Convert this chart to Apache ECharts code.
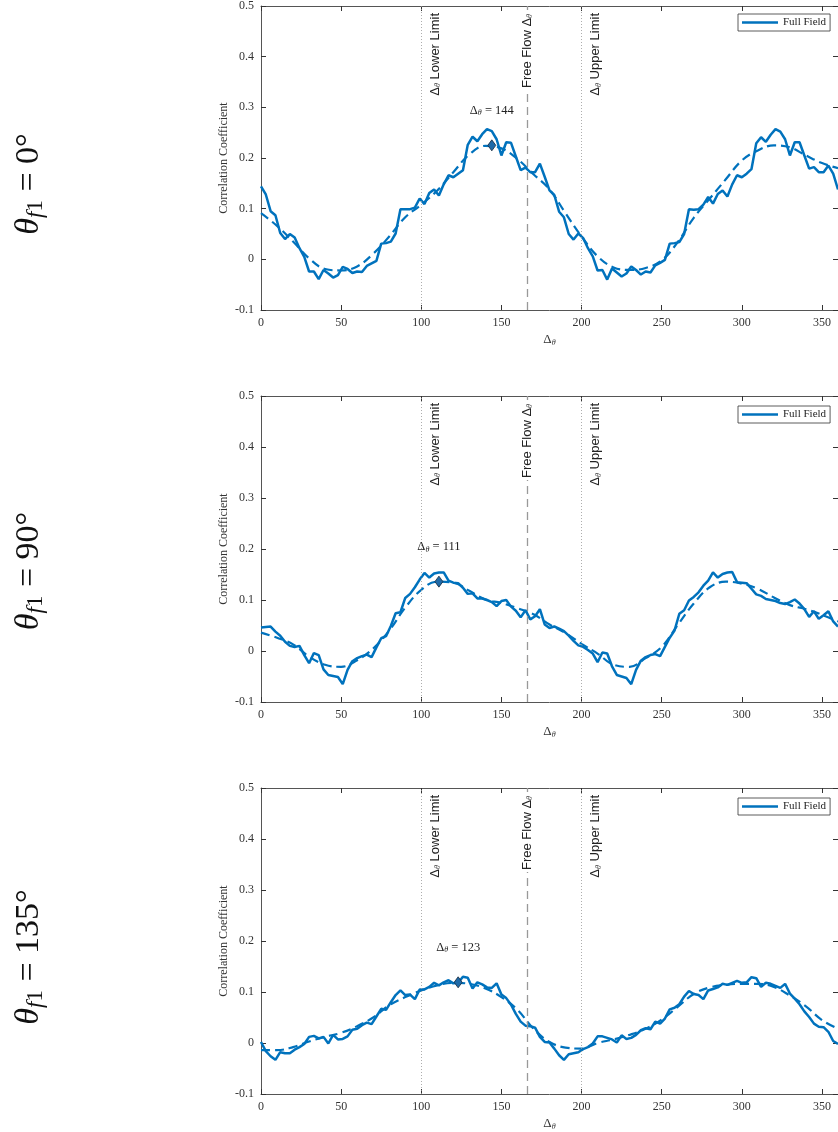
<!DOCTYPE html>
<html><head><meta charset="utf-8">
<script src="https://cdn.jsdelivr.net/npm/echarts@6/dist/echarts.min.js"></script>
<style>html,body{margin:0;padding:0;background:#fff}#c{width:838px;height:1132px}</style>
</head><body><div id="c"></div>
<script>
// ---------- DATA ----------
const angles = [0,3,6,9,12,15,18,21,24,27,30,33,36,39,42,45,48,51,54,57,60,63,66,69,72,75,78,81,84,87,
90,93,96,99,102,105,108,111,114,117,120,123,126,129,132,135,138,141,144,147,150,153,156,159,162,165,168,171,174,177,
180,183,186,189,192,195,198,201,204,207,210,213,216,219,222,225,228,231,234,237,240,243,246,249,252,255,258,261,264,267,
270,273,276,279,282,285,288,291,294,297,300,303,306,309,312,315,318,321,324,327,330,333,336,339,342,345,348,351,354,357,360];

const corr0 = [0.144,0.128,0.095,0.087,0.052,0.040,0.050,0.043,0.022,0.005,
-0.024,-0.024,-0.039,-0.021,-0.028,-0.036,-0.031,-0.015,-0.019,-0.027,
-0.024,-0.025,-0.013,-0.008,-0.003,0.031,0.032,0.035,0.051,0.099,
0.099,0.099,0.102,0.120,0.109,0.131,0.138,0.126,0.148,0.166,
0.162,0.169,0.176,0.226,0.242,0.233,0.247,0.257,0.253,0.237,
0.205,0.231,0.230,0.203,0.176,0.181,0.172,0.172,0.189,0.163,
0.136,0.127,0.094,0.083,0.050,0.039,0.051,0.042,0.022,0.006,
-0.022,-0.021,-0.040,-0.018,-0.026,-0.034,-0.028,-0.014,-0.021,-0.030,
-0.024,-0.026,-0.012,-0.007,-0.001,0.031,0.032,0.034,0.050,0.099,
0.098,0.099,0.108,0.123,0.110,0.129,0.136,0.124,0.148,0.166,
0.162,0.169,0.178,0.229,0.241,0.232,0.246,0.257,0.252,0.237,
0.205,0.231,0.231,0.205,0.179,0.182,0.172,0.172,0.185,0.169,
0.138];

const corr90 = [0.046,0.047,0.048,0.038,0.030,0.018,0.010,0.008,0.010,-0.008,
-0.024,-0.004,-0.008,-0.036,-0.047,-0.049,-0.051,-0.065,-0.037,-0.020,
-0.014,-0.010,-0.007,-0.012,0.007,0.025,0.029,0.049,0.074,0.076,
0.104,0.112,0.125,0.140,0.153,0.144,0.152,0.154,0.154,0.138,
0.134,0.133,0.124,0.112,0.113,0.103,0.103,0.100,0.096,0.088,
0.098,0.100,0.087,0.079,0.066,0.080,0.062,0.068,0.082,0.052,
0.045,0.048,0.044,0.039,0.030,0.020,0.011,0.008,0.002,-0.005,
-0.022,-0.003,-0.005,-0.030,-0.047,-0.050,-0.053,-0.065,-0.037,-0.019,
-0.012,-0.008,-0.006,-0.010,0.008,0.026,0.040,0.073,0.080,0.099,
0.106,0.115,0.128,0.138,0.154,0.144,0.151,0.154,0.155,0.135,
0.134,0.133,0.122,0.111,0.108,0.102,0.100,0.098,0.094,0.092,
0.096,0.101,0.093,0.082,0.067,0.078,0.063,0.070,0.078,0.058,
0.048];

const corr135 = [0.002,-0.016,-0.026,-0.033,-0.018,-0.020,-0.020,-0.013,-0.008,-0.002,
0.012,0.014,0.009,0.012,-0.001,0.016,0.007,0.008,0.013,0.026,
0.028,0.035,0.040,0.037,0.052,0.067,0.065,0.080,0.094,0.103,
0.094,0.095,0.086,0.105,0.105,0.110,0.118,0.113,0.119,0.123,
0.117,0.118,0.130,0.128,0.107,0.119,0.115,0.109,0.108,0.117,
0.095,0.088,0.075,0.057,0.042,0.034,0.033,0.030,0.012,0.002,
0.001,-0.011,-0.024,-0.033,-0.022,-0.020,-0.018,-0.012,-0.008,-0.001,
0.013,0.013,0.010,0.007,0.001,0.015,0.008,0.010,0.016,0.025,
0.029,0.027,0.042,0.038,0.048,0.066,0.069,0.076,0.091,0.102,
0.096,0.094,0.086,0.103,0.106,0.109,0.116,0.114,0.118,0.122,
0.118,0.119,0.129,0.127,0.110,0.118,0.116,0.112,0.108,0.116,
0.097,0.087,0.076,0.062,0.051,0.038,0.032,0.031,0.022,0.004,
-0.002];

const fitAngles = [0,10,20,30,40,50,60,70,80,90,100,110,120,130,140,150,160,170,180,
190,200,210,220,230,240,250,260,270,280,290,300,310,320,330,340,350,360];
const fit0 = [0.091,0.066,0.035,0.002,-0.019,-0.022,-0.014,0.011,0.045,0.083,0.108,0.136,0.172,0.207,0.224,0.219,0.198,0.168,0.138,
0.091,0.045,0.006,-0.016,-0.021,-0.017,-0.002,0.034,0.082,0.120,0.158,0.195,0.215,0.225,0.221,0.205,0.190,0.180];
const fit90 = [0.036,0.026,0.013,-0.011,-0.027,-0.031,-0.018,0.005,0.040,0.085,0.120,0.136,0.134,0.118,0.101,0.094,0.084,0.072,0.052,
0.035,0.014,-0.005,-0.027,-0.031,-0.014,0.008,0.051,0.093,0.125,0.136,0.132,0.122,0.105,0.090,0.082,0.071,0.058];
const fit135 = [-0.014,-0.014,-0.008,0.003,0.012,0.020,0.033,0.050,0.074,0.090,0.103,0.113,0.118,0.116,0.107,0.090,0.065,0.028,0.002,
-0.009,-0.011,0.000,0.007,0.016,0.028,0.046,0.071,0.096,0.109,0.114,0.116,0.116,0.110,0.093,0.072,0.045,0.028];

const panelNames = ['0°', '90°', '135°'];
const peakAngles = [144, 111, 123];
const peakValues = [0.225, 0.136, 0.119];
const limitLines = [100, 166, 200];     // lower limit, free flow, upper limit
const xTicks = {min: 0, max: 360, step: 50};
const yTicks = {min: -0.1, max: 0.5, step: 0.1};
const seriesName = 'Full Field';

// ---------- LAYOUT / STYLE ----------
const BLUE = '#0072BD';
const SERIF = '"Liberation Serif", "DejaVu Serif", serif';
const SANS = '"Liberation Sans", Arial, sans-serif';
const AX = '#555';
const tops = [4, 396, 788];
const H = 306, L = 261, W = 580;
const labelCenters = [184, 571, 957];
const legendTops = [14, 406, 798];

const panels = [
  {corr: corr0, fit: fit0},
  {corr: corr90, fit: fit90},
  {corr: corr135, fit: fit135}
];

const grid = [], xAxis = [], yAxis = [], series = [], legend = [], graphic = [];

panels.forEach((p, i) => {
  grid.push({left: L, top: tops[i], width: W, height: H});
  const axLine = {show: true, onZero: false, lineStyle: {color: AX, width: 1}};
  const tick = {show: true, inside: true, length: 5, lineStyle: {color: '#333', width: 1}};
  xAxis.push({
    type: 'value', gridIndex: i, position: 'bottom', min: xTicks.min, max: xTicks.max, interval: xTicks.step,
    axisLine: axLine, axisTick: tick, splitLine: {show: false},
    axisLabel: {fontFamily: SERIF, fontSize: 12, color: '#333', margin: 7, showMaxLabel: false},
    name: '{d|Δ}{s|θ}', nameLocation: 'middle', nameGap: 23, nameMoveOverlap: false,
    nameTextStyle: {rich: {d: {fontFamily: SERIF, fontSize: 13, color: '#333'},
                           s: {fontFamily: SERIF, fontSize: 8, fontStyle: 'italic', color: '#333', padding: [6,0,0,0]}}}
  });
  xAxis.push({
    type: 'value', gridIndex: i, position: 'top', min: xTicks.min, max: xTicks.max, interval: xTicks.step,
    axisLine: axLine, axisTick: tick, axisLabel: {show: false}, splitLine: {show: false}
  });
  yAxis.push({
    type: 'value', gridIndex: i, position: 'left', min: yTicks.min, max: yTicks.max, interval: yTicks.step,
    axisLine: axLine, axisTick: tick, splitLine: {show: false},
    axisLabel: {fontFamily: SERIF, fontSize: 12, color: '#333', margin: 7,
      formatter: v => Math.abs(v) < 1e-9 ? '0' : v.toFixed(1)},
    name: 'Correlation Coefficient', nameLocation: 'middle', nameGap: 31, nameRotate: 90, nameMoveOverlap: false,
    nameTextStyle: {fontFamily: SERIF, fontSize: 12, color: '#333'}
  });
  yAxis.push({
    type: 'value', gridIndex: i, position: 'right', min: yTicks.min, max: yTicks.max, interval: yTicks.step,
    axisLine: axLine, axisTick: tick, axisLabel: {show: false}, splitLine: {show: false}
  });

  const labRich = {
    t: {fontFamily: SANS, fontSize: 13, color: '#222'},
    d: {fontFamily: SANS, fontSize: 13, color: '#222'},
    s: {fontFamily: SERIF, fontSize: 8, fontStyle: 'italic', color: '#222', padding: [6,0,0,0]}
  };
  series.push({
    name: seriesName, type: 'line', xAxisIndex: 2*i, yAxisIndex: 2*i,
    data: angles.map((a, k) => [a, p.corr[k]]),
    showSymbol: false, symbol: 'none', clip: true,
    lineStyle: {color: BLUE, width: 2.5}, itemStyle: {color: BLUE}, z: 3,
    markLine: {
      silent: true, symbol: 'none', animation: false,
      data: [
        {xAxis: limitLines[0], lineStyle: {type: [1, 2], color: '#999', width: 0.8},
         label: {show: true, position: 'insideEndBottom', distance: 7, formatter: '{d|Δ}{s|θ}{t| Lower Limit}', rich: labRich}},
        {xAxis: limitLines[1], lineStyle: {type: [8, 5], color: '#999', width: 1.3},
         label: {show: true, position: 'insideEnd', distance: 4, backgroundColor: '#fff', padding: [0, 4, 0, 2],
                 formatter: '{t|Free Flow }{d|Δ}{s|θ}', rich: labRich}},
        {xAxis: limitLines[2], lineStyle: {type: [1, 2], color: '#999', width: 0.8},
         label: {show: true, position: 'insideEndBottom', distance: 7, formatter: '{d|Δ}{s|θ}{t| Upper Limit}', rich: labRich}}
      ]
    }
  });
  series.push({
    name: 'fit', type: 'line', xAxisIndex: 2*i, yAxisIndex: 2*i,
    data: fitAngles.map((a, k) => [a, p.fit[k]]),
    showSymbol: false, symbol: 'none', smooth: 0.4, clip: true,
    lineStyle: {color: BLUE, width: 2.2, type: [9, 5]}, z: 2
  });
  series.push({
    name: 'peak', type: 'scatter', xAxisIndex: 2*i, yAxisIndex: 2*i,
    data: [[peakAngles[i], peakValues[i]]],
    symbol: 'diamond', symbolSize: [8, 11],
    itemStyle: {color: '#1f6aa8', opacity: 1, borderColor: '#14283c', borderWidth: 0.8}, z: 5,
    label: {show: true, position: 'top', distance: 22,
      formatter: '{d|Δ}{s|θ}{t| = ' + peakAngles[i] + '}',
      rich: {t: {fontFamily: SERIF, fontSize: 12.5, color: '#222'},
             d: {fontFamily: SERIF, fontSize: 12.5, color: '#222'},
             s: {fontFamily: SERIF, fontSize: 8, fontStyle: 'italic', color: '#222', padding: [6,0,0,0]}}}
  });

  legend.push({
    data: [{name: seriesName, icon: 'rect'}], left: 738, top: legendTops[i],
    itemWidth: 36, itemHeight: 2.5, itemGap: 0,
    padding: [3, 4, 3, 4], borderColor: '#333', borderWidth: 0.8, backgroundColor: '#fff',
    borderRadius: 0, selectedMode: false,
    textStyle: {fontFamily: SERIF, fontSize: 11, color: '#222'}
  });

  graphic.push({
    type: 'text', x: 29, y: labelCenters[i], rotation: Math.PI / 2,
    style: {
      text: '{th|θ}{f|f}{one|1}{t| = ' + panelNames[i] + '}',
      align: 'center', verticalAlign: 'middle',
      rich: {
        th: {fontFamily: SERIF, fontSize: 34, fontStyle: 'italic', fill: '#111'},
        f: {fontFamily: SERIF, fontSize: 23, fontStyle: 'italic', fill: '#111', padding: [14,0,0,0]},
        one: {fontFamily: SERIF, fontSize: 23, fill: '#111', padding: [14,0,0,0]},
        t: {fontFamily: SERIF, fontSize: 34, fill: '#111'}
      }
    }
  });
});

const chart = echarts.init(document.getElementById('c'), null, {renderer: 'canvas'});
chart.setOption({
  animation: false,
  backgroundColor: '#fff',
  grid, xAxis, yAxis, series, legend, graphic
});
</script>
</body></html>
